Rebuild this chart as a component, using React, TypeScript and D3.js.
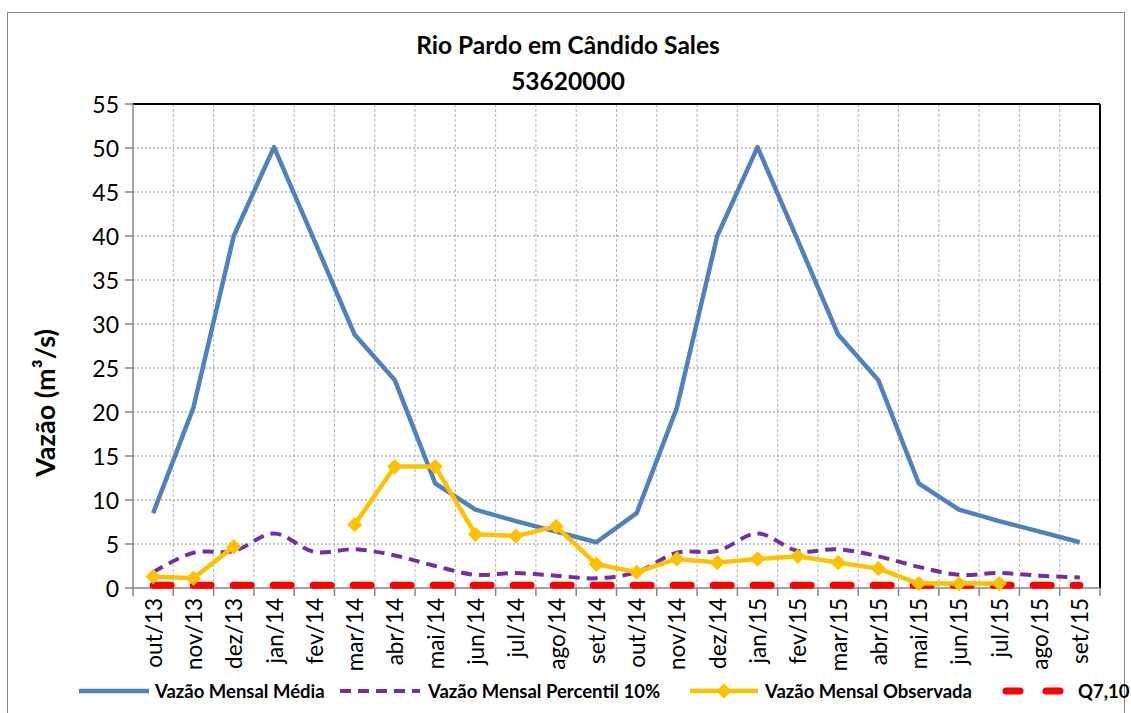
import { useEffect, useRef } from 'react';
import * as d3 from 'd3';

// Monthly categories (out/13 .. set/15)
const months = [
  'out/13', 'nov/13', 'dez/13', 'jan/14', 'fev/14', 'mar/14', 'abr/14', 'mai/14',
  'jun/14', 'jul/14', 'ago/14', 'set/14', 'out/14', 'nov/14', 'dez/14', 'jan/15',
  'fev/15', 'mar/15', 'abr/15', 'mai/15', 'jun/15', 'jul/15', 'ago/15', 'set/15',
];

const media = [
  8.5, 20.5, 40, 50.1, 39.5, 28.8, 23.6, 11.9, 8.9, 7.6, 6.4, 5.2,
  8.5, 20.5, 40, 50.1, 39.5, 28.8, 23.6, 11.9, 8.9, 7.6, 6.4, 5.2,
];

const percentil10 = [
  1.8, 4.0, 4.2, 6.2, 4.1, 4.4, 3.7, 2.5, 1.5, 1.7, 1.4, 1.1,
  1.8, 4.0, 4.2, 6.2, 4.2, 4.4, 3.6, 2.4, 1.5, 1.7, 1.4, 1.2,
];

const observada: (number | null)[] = [
  1.3, 1.1, 4.7, null, null, 7.2, 13.8, 13.8, 6.1, 5.9, 7.0, 2.7,
  1.8, 3.3, 2.9, 3.3, 3.6, 2.9, 2.2, 0.5, 0.5, 0.5, null, null,
];

const q710 = months.map(() => 0.3);

const yTicks = [0, 5, 10, 15, 20, 25, 30, 35, 40, 45, 50, 55];

const FONT = 'Lato, "Open Sans", sans-serif';

export default function App() {
  const svgRef = useRef<SVGSVGElement>(null);
  const width = 1131;
  const height = 713;

  useEffect(() => {
    if (!svgRef.current) return;
    const svg = d3.select(svgRef.current);
    svg.selectAll('*').remove();

    const left = 133;
    const right = 1100;
    const top = 104;
    const bottom = 588;

    // outer chart border
    svg.append('rect')
      .attr('x', 7.5).attr('y', 12.5)
      .attr('width', 1117).attr('height', 720)
      .attr('fill', '#fff')
      .attr('stroke', '#868686')
      .attr('stroke-width', 1);

    const x = d3.scaleBand<string>().domain(months).range([left, right]);
    const y = d3.scaleLinear().domain([0, 55]).range([bottom, top]);
    const cx = (i: number) => (x(months[i]) ?? 0) + x.bandwidth() / 2;

    // horizontal grid
    svg.append('g')
      .selectAll('line')
      .data(yTicks.filter((t) => t > 0 && t < 55))
      .enter()
      .append('line')
      .attr('x1', left).attr('x2', right)
      .attr('y1', (d) => y(d)).attr('y2', (d) => y(d))
      .attr('stroke', '#8c8c8c')
      .attr('stroke-width', 1)
      .attr('stroke-dasharray', '2,2');

    // vertical grid (category boundaries)
    svg.append('g')
      .selectAll('line')
      .data(months.slice(1))
      .enter()
      .append('line')
      .attr('x1', (d) => x(d) ?? 0).attr('x2', (d) => x(d) ?? 0)
      .attr('y1', top).attr('y2', bottom)
      .attr('stroke', '#b4b4b4')
      .attr('stroke-width', 1)
      .attr('stroke-dasharray', '3,2');

    // top and right border of plot area
    svg.append('line')
      .attr('x1', left).attr('x2', right).attr('y1', top).attr('y2', top)
      .attr('stroke', '#000').attr('stroke-width', 2);
    svg.append('line')
      .attr('x1', right).attr('x2', right).attr('y1', top).attr('y2', bottom)
      .attr('stroke', '#000').attr('stroke-width', 2);

    // y axis
    const yAxis = svg.append('g');
    yAxis.append('line')
      .attr('x1', left).attr('x2', left).attr('y1', top).attr('y2', bottom)
      .attr('stroke', '#868686').attr('stroke-width', 1.5);
    yTicks.forEach((t) => {
      yAxis.append('line')
        .attr('x1', left - 8).attr('x2', left).attr('y1', y(t)).attr('y2', y(t))
        .attr('stroke', '#868686').attr('stroke-width', 1.5);
      yAxis.append('text')
        .attr('x', left - 14).attr('y', y(t))
        .attr('text-anchor', 'end')
        .attr('dominant-baseline', 'central')
        .attr('font-family', FONT)
        .attr('font-size', '23px')
        .attr('fill', '#000')
        .text(t);
    });

    // x axis
    const xAxis = svg.append('g');
    xAxis.append('line')
      .attr('x1', left).attr('x2', right).attr('y1', bottom).attr('y2', bottom)
      .attr('stroke', '#868686').attr('stroke-width', 1.5);
    [...months, null].forEach((m, i) => {
      const xx = m ? (x(m) ?? 0) : right;
      xAxis.append('line')
        .attr('x1', xx).attr('x2', xx).attr('y1', bottom).attr('y2', bottom + 8)
        .attr('stroke', '#868686').attr('stroke-width', 1.5);
      if (m) {
        const px = cx(i);
        xAxis.append('text')
          .attr('transform', `translate(${px},${bottom + 10}) rotate(-90)`)
          .attr('text-anchor', 'end')
          .attr('dominant-baseline', 'central')
          .attr('font-family', FONT)
          .attr('font-size', '22.5px')
          .attr('fill', '#000')
          .text(m);
      }
    });

    // Q7,10 (red dashed)
    const straight = d3.line<number>()
      .x((_, i) => cx(i))
      .y((d) => y(d));
    svg.append('path')
      .attr('d', straight(q710))
      .attr('fill', 'none')
      .attr('stroke', '#ff0000')
      .attr('stroke-width', 7)
      .attr('stroke-linecap', 'round')
      .attr('stroke-dasharray', '18,22');

    // Percentil 10% (purple smoothed dashed)
    const smooth = d3.line<number>()
      .x((_, i) => cx(i))
      .y((d) => y(d))
      .curve(d3.curveCatmullRom.alpha(0.5));
    svg.append('path')
      .attr('d', smooth(percentil10))
      .attr('fill', 'none')
      .attr('stroke', '#7030a0')
      .attr('stroke-width', 4)
      .attr('stroke-dasharray', '11,7');

    // Média (blue)
    svg.append('path')
      .attr('d', straight(media))
      .attr('fill', 'none')
      .attr('stroke', '#4f81bd')
      .attr('stroke-width', 4.5)
      .attr('stroke-linejoin', 'round');

    // Observada (yellow with diamonds)
    const obsLine = d3.line<number | null>()
      .defined((d) => d !== null)
      .x((_, i) => cx(i))
      .y((d) => y(d as number));
    svg.append('path')
      .attr('d', obsLine(observada))
      .attr('fill', 'none')
      .attr('stroke', '#ffc000')
      .attr('stroke-width', 4.5)
      .attr('stroke-linejoin', 'round');

    const diamond = d3.symbol().type(d3.symbolDiamond2).size(150);
    observada.forEach((v, i) => {
      if (v === null) return;
      svg.append('path')
        .attr('d', diamond())
        .attr('transform', `translate(${cx(i)},${y(v)})`)
        .attr('fill', '#ffc000');
    });

    // Title
    svg.append('text')
      .attr('x', 568).attr('y', 54)
      .attr('text-anchor', 'middle')
      .attr('font-family', FONT)
      .attr('font-size', '24.5px')
      .attr('font-weight', 'bold')
      .text('Rio Pardo em Cândido Sales');
    svg.append('text')
      .attr('x', 568).attr('y', 90)
      .attr('text-anchor', 'middle')
      .attr('font-family', FONT)
      .attr('font-size', '24.5px')
      .attr('font-weight', 'bold')
      .text('53620000');

    // y label
    svg.append('text')
      .attr('transform', `translate(44,403) rotate(-90)`)
      .attr('text-anchor', 'middle')
      .attr('dominant-baseline', 'central')
      .attr('font-family', FONT)
      .attr('font-size', '27px')
      .attr('font-weight', 'bold')
      .text('Vazão (m³/s)');

    // Legend
    const ly = 691;
    const lg = svg.append('g');
    const legendText = (xx: number, t: string) =>
      lg.append('text')
        .attr('x', xx).attr('y', ly)
        .attr('dominant-baseline', 'central')
        .attr('font-family', FONT)
        .attr('font-size', '18.5px')
        .attr('font-weight', 'bold')
        .text(t);

    lg.append('line').attr('x1', 79).attr('x2', 149).attr('y1', ly).attr('y2', ly)
      .attr('stroke', '#4f81bd').attr('stroke-width', 4.5);
    legendText(155, 'Vazão Mensal Média');

    lg.append('line').attr('x1', 340).attr('x2', 420).attr('y1', ly).attr('y2', ly)
      .attr('stroke', '#7030a0').attr('stroke-width', 4).attr('stroke-dasharray', '11,7');
    legendText(428, 'Vazão Mensal Percentil 10%');

    lg.append('line').attr('x1', 690).attr('x2', 758).attr('y1', ly).attr('y2', ly)
      .attr('stroke', '#ffc000').attr('stroke-width', 4.5);
    lg.append('path').attr('d', diamond())
      .attr('transform', `translate(724,${ly})`).attr('fill', '#ffc000');
    legendText(765, 'Vazão Mensal Observada');

    lg.append('line').attr('x1', 1006).attr('x2', 1070).attr('y1', ly).attr('y2', ly)
      .attr('stroke', '#ff0000').attr('stroke-width', 7)
      .attr('stroke-linecap', 'round').attr('stroke-dasharray', '14,26');
    legendText(1078, 'Q7,10');
  }, []);

  return (
    <svg
      ref={svgRef}
      width={width}
      height={height}
      style={{ position: 'absolute', left: 0, top: 0, background: '#fff' }}
    />
  );
}
